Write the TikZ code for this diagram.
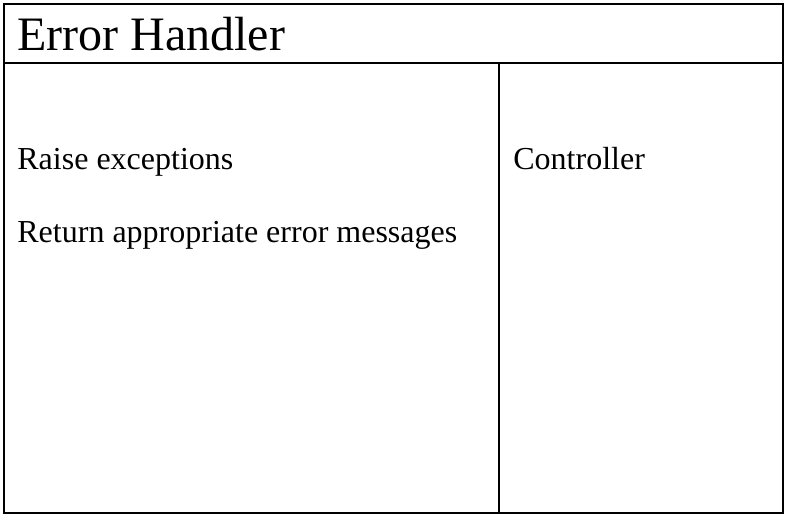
\documentclass[tikz,border=0pt]{standalone}
\usepackage{fontspec}
\setmainfont{Liberation Serif}
\usetikzlibrary{positioning}
\tikzset{card/.style = {draw, line width=1pt}}
\tikzset{cardtitle/.style = {anchor=base west, inner sep=0pt,
  font=\fontsize{24}{28}\selectfont}}
\tikzset{entry/.style = {anchor=base west, inner sep=0pt,
  font=\fontsize{16}{19}\selectfont}}

\begin{document}
\begin{tikzpicture}[x=0.5pt, y=-0.5pt]
  \useasboundingbox (0,0) rectangle (788,516);
  \coordinate (nw) at (4,4);
  \coordinate (se) at (783,513);
  \coordinate (hl) at (4,63);
  \coordinate (hr) at (783,63);
  \coordinate (vt) at (499,63);
  \coordinate (vb) at (499,513);
  \draw[card] (nw) rectangle (se);
  \draw[card] (hl) -- (hr);
  \draw[card] (vt) -- (vb);
  \node[cardtitle] (title) at (17,50) {Error Handler};
  \node[entry] (raise) at (17,169) {Raise exceptions};
  \node[entry] (return) at (17,242) {Return appropriate error messages};
  \node[entry] (collab) at (513,169) {Controller};
\end{tikzpicture}
\end{document}
